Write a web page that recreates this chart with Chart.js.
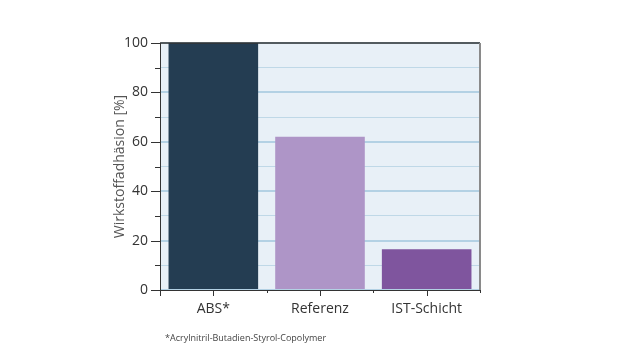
<!DOCTYPE html>
<html>
<head>
<meta charset="utf-8">
<script src="https://cdn.jsdelivr.net/npm/chart.js@4"></script>
<style>
  html, body { margin: 0; padding: 0; background: #fff; }
  #wrap { position: relative; width: 626px; height: 352px; }
  #note {
    position: absolute; left: 165px; top: 331px;
    font-family: "Open Sans", sans-serif; font-size: 9px; color: #444;
  }
</style>
</head>
<body>
<div id="wrap">
  <canvas id="myChart" width="626" height="352"></canvas>
  <div id="note">*Acrylnitril-Butadien-Styrol-Copolymer</div>
</div>
<script>
// data
const categories = ["ABS*", "Referenz", "IST-Schicht"];
const adhesion = [100, 62, 16.5];
const yTickLabels = [0, 20, 40, 60, 80, 100];
const barColors = ["#243d52", "#ae95c7", "#7f559e"];

// plot background, top/right frame and tick marks
const frame = {
  id: "frame",
  beforeDraw(chart) {
    const { ctx, chartArea: a } = chart;
    ctx.save();
    ctx.fillStyle = "#e8f0f7";
    ctx.fillRect(a.left, a.top, a.right - a.left, a.bottom - a.top);
    ctx.restore();
  },
  afterDraw(chart) {
    const { ctx, chartArea: a, scales } = chart;
    ctx.save();
    // top border
    ctx.strokeStyle = "#333";
    ctx.lineWidth = 1.5;
    ctx.beginPath();
    ctx.moveTo(a.left, a.top);
    ctx.lineTo(a.right, a.top);
    ctx.stroke();
    // right border
    ctx.strokeStyle = "#8a8a8a";
    ctx.lineWidth = 2;
    ctx.beginPath();
    ctx.moveTo(a.right, a.top);
    ctx.lineTo(a.right, a.bottom);
    ctx.stroke();
    // y tick marks
    ctx.strokeStyle = "#333";
    ctx.lineWidth = 1;
    for (let v = 0; v <= 100; v += 10) {
      const y = Math.round(scales.y.getPixelForValue(v)) + 0.5;
      const len = v % 20 === 0 ? 9 : 5;
      ctx.beginPath();
      ctx.moveTo(a.left - len, y);
      ctx.lineTo(a.left, y);
      ctx.stroke();
    }
    // x tick marks
    const x = scales.x;
    categories.forEach((c, i) => {
      const cx = Math.round(x.getPixelForValue(i)) + 0.5;
      ctx.beginPath();
      ctx.moveTo(cx, a.bottom);
      ctx.lineTo(cx, a.bottom + 6);
      ctx.stroke();
    });
    for (let i = 0; i <= categories.length; i++) {
      const bx = Math.round(x.getPixelForValue(i - 0.5)) + 0.5;
      ctx.beginPath();
      ctx.moveTo(bx, a.bottom);
      ctx.lineTo(bx, a.bottom + (i === 0 ? 6 : 3));
      ctx.stroke();
    }
    ctx.restore();
  }
};

const ctx = document.getElementById("myChart");

new Chart(ctx, {
  type: "bar",
  data: {
    labels: categories,
    datasets: [
      {
        data: adhesion,
        backgroundColor: barColors,
        borderWidth: 0,
        barPercentage: 0.84,
        categoryPercentage: 1,
      },
    ],
  },
  plugins: [frame],
  options: {
    responsive: false,
    animation: false,
    layout: { padding: { left: 0, right: 146, top: 43, bottom: 0 } },
    plugins: {
      legend: { display: false },
      tooltip: { enabled: false },
    },
    scales: {
      x: {
        grid: { display: false, drawTicks: false },
        border: { display: true, color: "#333", width: 1 },
        ticks: {
          color: "#333",
          padding: 11,
          font: { family: "Open Sans", size: 14 },
        },
        afterFit(scale) { scale.height = 62; },
      },
      y: {
        min: 0,
        max: 100,
        ticks: {
          stepSize: 10,
          color: "#333",
          padding: 12,
          font: { family: "Open Sans", size: 14 },
          callback: (v) => (yTickLabels.includes(v) ? v : ""),
        },
        grid: {
          drawTicks: false,
          color: (c) => (c.tick && c.tick.value % 20 === 0 ? "#b3d1e4" : "#bfd8e7"),
          lineWidth: (c) => (c.tick && c.tick.value % 20 === 0 ? 2 : 1),
        },
        border: { display: true, color: "#333", width: 1 },
        title: {
          display: true,
          text: "Wirkstoffadhäsion [%]",
          color: "#555",
          padding: { top: 112, bottom: 0 },
          font: { family: "Open Sans", size: 14 },
        },
        afterFit(scale) { scale.width = 160; },
      },
    },
  },
});
</script>
</body>
</html>
